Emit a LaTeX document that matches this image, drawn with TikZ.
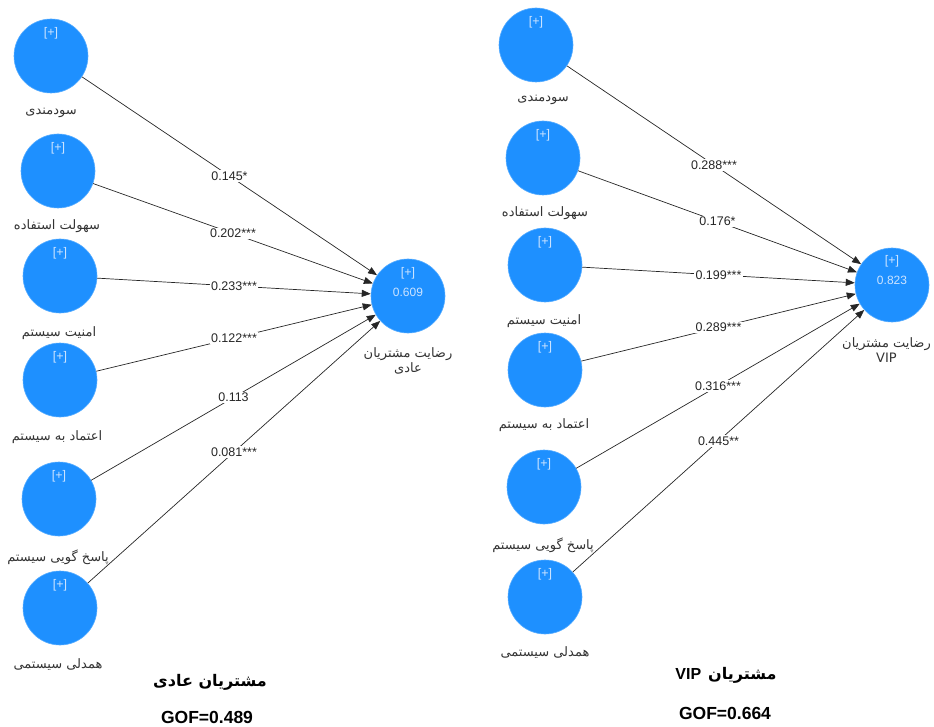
\documentclass[tikz,border=0pt]{standalone}
\usepackage{fontspec}
\setmainfont{Liberation Sans}
\newfontfamily\fa[Script=Arabic]{DejaVu Sans}
\TeXXeTstate=1
\usetikzlibrary{arrows.meta}
\definecolor{lvblue}{RGB}{30,144,255}
\definecolor{plusc}{RGB}{205,228,255}
\begin{document}
\begin{tikzpicture}[x=1pt,y=-1pt,
  lv/.style={circle, fill=lvblue, draw=lvblue!75!white, line width=0.6pt, minimum size=74pt, inner sep=0pt},
  plus/.style={font=\fontsize{12.5}{13}\selectfont, text=plusc, inner sep=1pt},
  rval/.style={font=\fontsize{12}{13}\selectfont, text=plusc, inner sep=1pt},
  pathc/.style={draw=black!85, line width=0.7pt, -{Triangle[length=9pt,width=7pt]}},
  coef/.style={fill=white, inner sep=1.5pt, font=\fontsize{12.5}{13}\selectfont, text=black!85},
  falabel/.style={font=\fa\fontsize{13}{15}\selectfont, text=black!80, inner sep=1pt},
  ftitle/.style={font=\fa\bfseries\fontsize{16}{18}\selectfont, inner sep=1pt},
  gof/.style={font=\bfseries\fontsize{17.5}{20}\selectfont, inner sep=1pt}]
\useasboundingbox (0,0) rectangle (934,727);

% ---------------- left panel ----------------
\node[lv] (L1) at (51,56) {};
\node[lv] (L2) at (58,171) {};
\node[lv] (L3) at (60,276) {};
\node[lv] (L4) at (60,380) {};
\node[lv] (L5) at (59,499) {};
\node[lv] (L6) at (60,608) {};
\node[lv] (LT) at (408,296) {};

\draw[pathc] (L1) -- node[coef] (c1) {0.145*} (LT);
\draw[pathc] (L2) -- node[coef] (c2) {0.202***} (LT);
\draw[pathc] (L3) -- node[coef] (c3) {0.233***} (LT);
\draw[pathc] (L4) -- node[coef] (c4) {0.122***} (LT);
\draw[pathc] (L5) -- node[coef] (c5) {0.113} (LT);
\draw[pathc] (L6) -- node[coef] (c6) {0.081***} (LT);

\foreach \n in {L1,L2,L3,L4,L5,L6}{
  \node[plus] (\n p) at ([yshift=23pt]\n.center) {[+]};
}
\node[plus] (LTp) at ([yshift=23pt]LT.center) {[+]};
\node[rval] (LTv) at ([yshift=4pt]LT.center) {0.609};

\node[falabel] (L1n) at (51,113) {\beginR سودمندی\endR};
\node[falabel] (L2n) at (57,226) {\beginR سهولت استفاده\endR};
\node[falabel] (L3n) at (59,333) {\beginR امنیت سیستم\endR};
\node[falabel] (L4n) at (57,437) {\beginR اعتماد به سیستم\endR};
\node[falabel] (L5n) at (58,557) {\beginR پاسخ گویی سیستم\endR};
\node[falabel] (L6n) at (58,665) {\beginR همدلی سیستمی\endR};
\node[falabel, align=center] (LTn) at (408,361) {\beginR رضایت مشتریان\endR\\\beginR عادی\endR};

\node[ftitle] (Ltitle) at (210,682) {\beginR مشتریان عادی\endR};
\node[gof] (Lgof) at (207,717) {GOF=0.489};

% ---------------- right panel ----------------
\node[lv] (R1) at (536,45) {};
\node[lv] (R2) at (543,158) {};
\node[lv] (R3) at (545,265) {};
\node[lv] (R4) at (545,370) {};
\node[lv] (R5) at (544,487) {};
\node[lv] (R6) at (545,597) {};
\node[lv] (RT) at (892,285) {};

\draw[pathc] (R1) -- node[coef] (d1) {0.288***} (RT);
\draw[pathc] (R2) -- node[coef] (d2) {0.176*} (RT);
\draw[pathc] (R3) -- node[coef] (d3) {0.199***} (RT);
\draw[pathc] (R4) -- node[coef] (d4) {0.289***} (RT);
\draw[pathc] (R5) -- node[coef] (d5) {0.316***} (RT);
\draw[pathc] (R6) -- node[coef] (d6) {0.445**} (RT);

\foreach \n in {R1,R2,R3,R4,R5,R6}{
  \node[plus] (\n p) at ([yshift=23pt]\n.center) {[+]};
}
\node[plus] (RTp) at ([yshift=24pt]RT.center) {[+]};
\node[rval] (RTv) at ([yshift=5pt]RT.center) {0.823};

\node[falabel] (R1n) at (543,100) {\beginR سودمندی\endR};
\node[falabel] (R2n) at (545,213) {\beginR سهولت استفاده\endR};
\node[falabel] (R3n) at (544,321) {\beginR امنیت سیستم\endR};
\node[falabel] (R4n) at (544,425) {\beginR اعتماد به سیستم\endR};
\node[falabel] (R5n) at (543,545) {\beginR پاسخ گویی سیستم\endR};
\node[falabel] (R6n) at (545,653) {\beginR همدلی سیستمی\endR};
\node[falabel, align=center, anchor=east] (RTn) at (932,350) {\beginR رضایت مشتریان\endR\\VIP};

\node[ftitle] (Rtitle) at (726,675) {{\rmfamily VIP}\hspace{7pt}\beginR مشتریان\endR};
\node[gof] (Rgof) at (725,713) {GOF=0.664};
\end{tikzpicture}
\end{document}
